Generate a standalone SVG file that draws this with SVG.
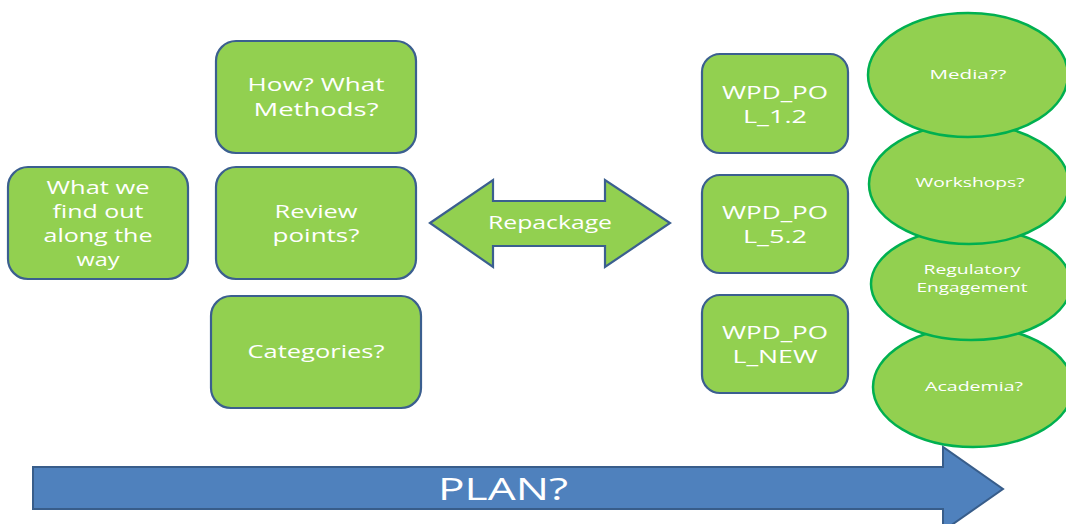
<svg xmlns="http://www.w3.org/2000/svg" width="1066" height="524" viewBox="0 0 1066 524">
<style>
.box{fill:#92d050;stroke:#3b5f8f;stroke-width:2.2}
.ell{fill:#92d050;stroke:#00b050;stroke-width:2.5}
.t{fill:#ffffff;font-family:"Open Sans","Liberation Sans",sans-serif;font-size:18px;text-anchor:middle}
.s{fill:#ffffff;font-family:"Open Sans","Liberation Sans",sans-serif;font-size:13.5px;text-anchor:middle}
.p{fill:#ffffff;font-family:"Open Sans","Liberation Sans",sans-serif;font-size:31px;text-anchor:middle}
</style>
<rect width="1066" height="524" fill="#ffffff"/>
<g id="plan">
<path d="M33,467 L943,467 L943,447 L1003,489 L943,531 L943,509 L33,509 Z" fill="#4f81bd" stroke="#385d8a" stroke-width="2"/>
<text class="p" x="503" y="500" textLength="130" lengthAdjust="spacingAndGlyphs">PLAN?</text>
</g>
<g id="find-out">
<rect class="box" x="8" y="167" width="180" height="112" rx="20"/>
<text class="t" x="98" y="194" textLength="103" lengthAdjust="spacingAndGlyphs">What we</text>
<text class="t" x="98" y="218" textLength="91" lengthAdjust="spacingAndGlyphs">find out</text>
<text class="t" x="98" y="242" textLength="109" lengthAdjust="spacingAndGlyphs">along the</text>
<text class="t" x="98" y="266" textLength="43" lengthAdjust="spacingAndGlyphs">way</text>
</g>
<g id="methods">
<rect class="box" x="216" y="41" width="200" height="112" rx="20"/>
<text class="t" x="316" y="91" textLength="137" lengthAdjust="spacingAndGlyphs">How? What</text>
<text class="t" x="316" y="116" textLength="125" lengthAdjust="spacingAndGlyphs">Methods?</text>
</g>
<g id="review">
<rect class="box" x="216" y="167" width="200" height="112" rx="20"/>
<text class="t" x="316" y="218" textLength="83" lengthAdjust="spacingAndGlyphs">Review</text>
<text class="t" x="316" y="242" textLength="87" lengthAdjust="spacingAndGlyphs">points?</text>
</g>
<g id="categories">
<rect class="box" x="211" y="296" width="210" height="112" rx="20"/>
<text class="t" x="316" y="358" textLength="137" lengthAdjust="spacingAndGlyphs">Categories?</text>
</g>
<g id="repackage">
<path class="box" d="M430,223 L493,180 L493,201 L605,201 L605,180 L670,223 L605,267 L605,246 L493,246 L493,267 Z"/>
<text class="t" x="550" y="229" textLength="124" lengthAdjust="spacingAndGlyphs">Repackage</text>
</g>
<g id="wpd-1-2">
<rect class="box" x="702" y="54" width="146" height="99" rx="18"/>
<text class="t" x="775" y="99" textLength="106" lengthAdjust="spacingAndGlyphs">WPD_PO</text>
<text class="t" x="775" y="123" textLength="64" lengthAdjust="spacingAndGlyphs">L_1.2</text>
</g>
<g id="wpd-5-2">
<rect class="box" x="702" y="175" width="146" height="98" rx="18"/>
<text class="t" x="775" y="219" textLength="106" lengthAdjust="spacingAndGlyphs">WPD_PO</text>
<text class="t" x="775" y="243" textLength="64" lengthAdjust="spacingAndGlyphs">L_5.2</text>
</g>
<g id="wpd-new">
<rect class="box" x="702" y="295" width="146" height="98" rx="18"/>
<text class="t" x="775" y="339" textLength="106" lengthAdjust="spacingAndGlyphs">WPD_PO</text>
<text class="t" x="775" y="363" textLength="85" lengthAdjust="spacingAndGlyphs">L_NEW</text>
</g>
<g id="academia">
<ellipse class="ell" cx="973" cy="387" rx="100" ry="60"/>
<text class="s" x="974" y="391" textLength="98" lengthAdjust="spacingAndGlyphs">Academia?</text>
</g>
<g id="regulatory">
<ellipse class="ell" cx="971" cy="284" rx="100" ry="56"/>
<text class="s" x="972" y="274" textLength="97" lengthAdjust="spacingAndGlyphs">Regulatory</text>
<text class="s" x="972" y="292" textLength="111" lengthAdjust="spacingAndGlyphs">Engagement</text>
</g>
<g id="workshops">
<ellipse class="ell" cx="969" cy="184" rx="100" ry="60"/>
<text class="s" x="970" y="187" textLength="109" lengthAdjust="spacingAndGlyphs">Workshops?</text>
</g>
<g id="media">
<ellipse class="ell" cx="968" cy="75" rx="100" ry="62"/>
<text class="s" x="968" y="79" textLength="77" lengthAdjust="spacingAndGlyphs">Media??</text>
</g>
<g id="connectors"></g>
</svg>
